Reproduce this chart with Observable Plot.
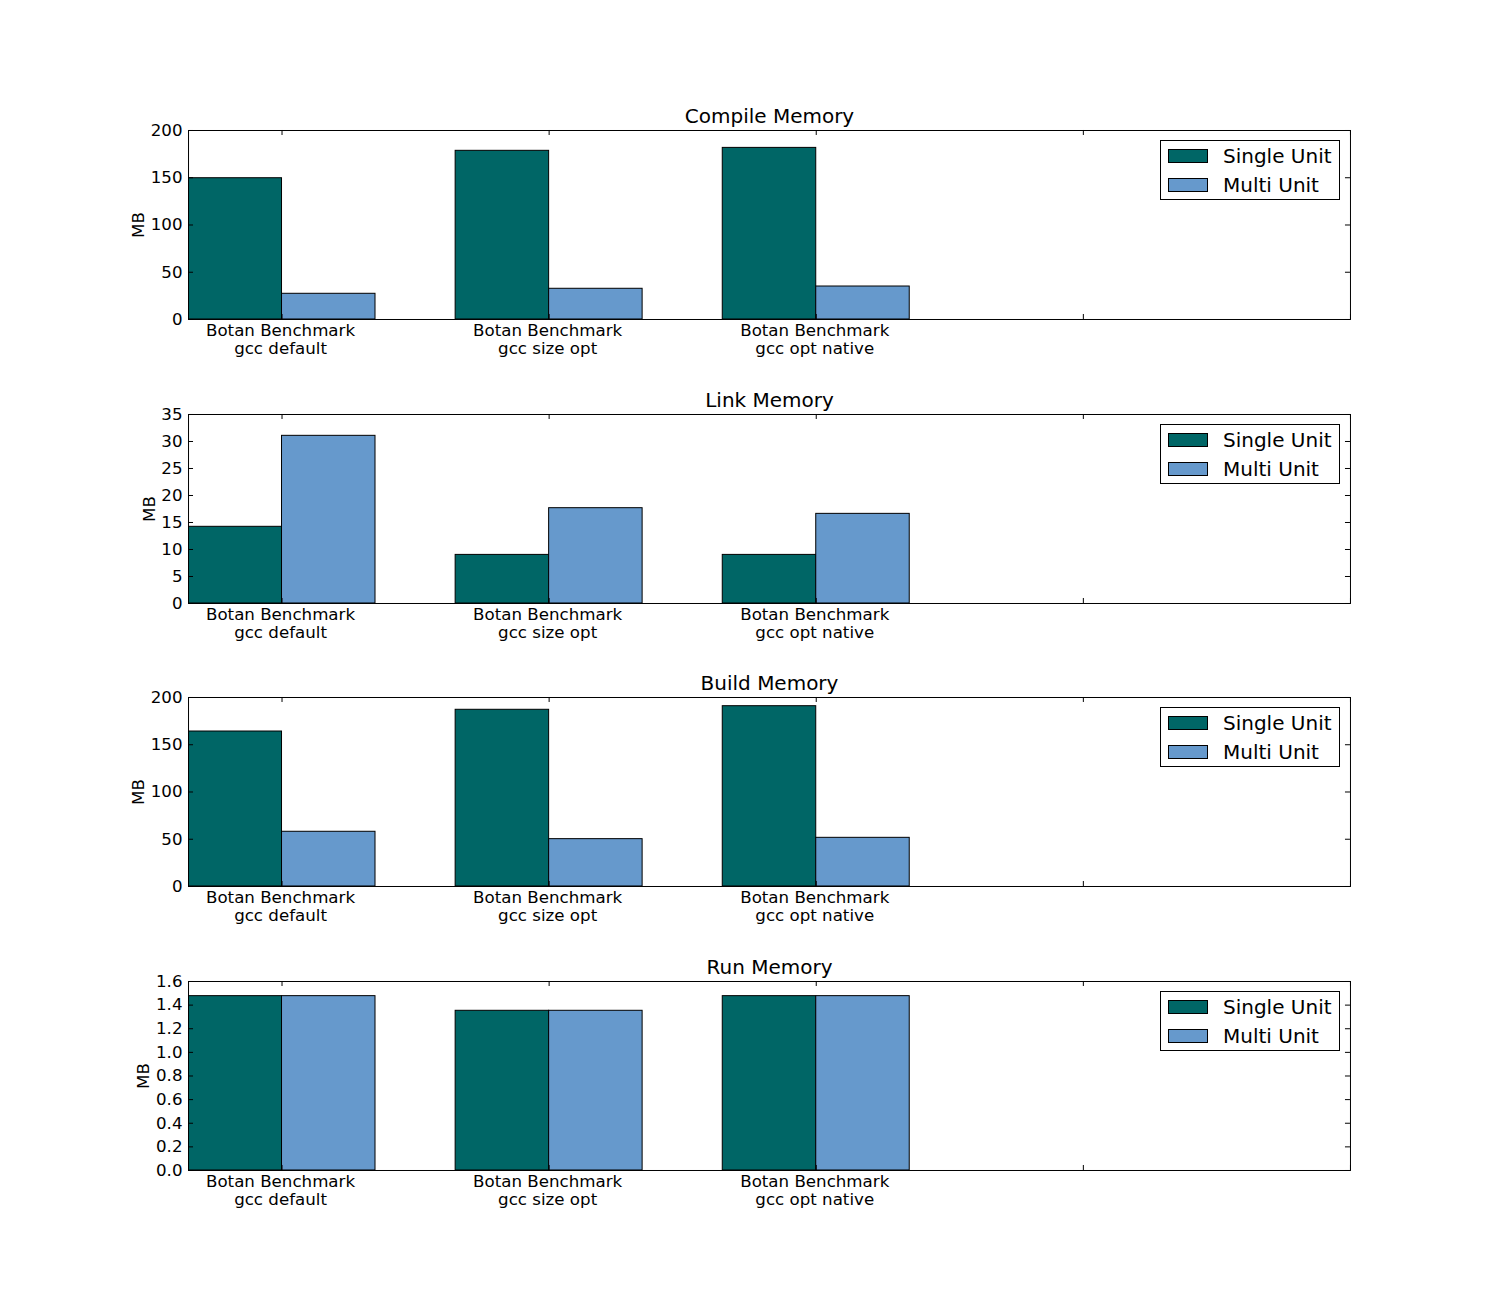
<!DOCTYPE html>
<html>
<head>
<meta charset="utf-8">
<script src="https://cdn.jsdelivr.net/npm/d3@7"></script>
<script src="https://cdn.jsdelivr.net/npm/@observablehq/plot@0.6"></script>
<style>
  body { margin: 0; background: #fff; font-family: "DejaVu Sans", sans-serif; }
  #fig { position: relative; width: 1500px; height: 1300px; padding-top: 82px; box-sizing: border-box; }
  .panel { position: relative; width: 1500px; height: 283.67px; }
  .panel svg { display: block; overflow: visible; }
  .legend { position: absolute; top: 58px; right: 160px; width: 180px; height: 60px; box-sizing: border-box;
            border: 1px solid #000; background: #fff; font-family: "DejaVu Sans", sans-serif; font-size: 20px; }
  .legend .sw { position: absolute; left: 7px; width: 40px; height: 14px; box-sizing: border-box; border: 1px solid #000; }
  .legend .lb { position: absolute; left: 62px; height: 24px; line-height: 24px; color: #000; white-space: nowrap; }
</style>
</head>
<body>
<div id="fig"></div>
<script>
// ---- data ----
const categories = ["Botan Benchmark\ngcc default", "Botan Benchmark\ngcc size opt", "Botan Benchmark\ngcc opt native", "", ""];
const seriesNames = ["Single Unit", "Multi Unit"];
const seriesColors = ["#006666", "#6699cc"];
const titles = ["Compile Memory", "Link Memory", "Build Memory", "Run Memory"];
const yLabel = "MB";

const compileSingle = [149.5, 178.5, 181.6, 0, 0];
const compileMulti  = [27.2, 32.5, 34.9, 0, 0];
const linkSingle    = [14.2, 9.0, 9.0, 0, 0];
const linkMulti     = [31.05, 17.65, 16.6, 0, 0];
const buildSingle   = [164, 187, 190.8, 0, 0];
const buildMulti    = [57.9, 50.1, 51.5, 0, 0];
const runSingle     = [1.476, 1.352, 1.476, 0, 0];
const runMulti      = [1.476, 1.352, 1.476, 0, 0];

const compileTicks = [0, 50, 100, 150, 200];
const linkTicks    = [0, 5, 10, 15, 20, 25, 30, 35];
const buildTicks   = [0, 50, 100, 150, 200];
const runTicks     = [0.0, 0.2, 0.4, 0.6, 0.8, 1.0, 1.2, 1.4, 1.6];
const runTickFormat = ".1f";

// ---- build panels ----
const barWidth = 0.35;
const panels = [
  {title: titles[0], single: compileSingle, multi: compileMulti, ticks: compileTicks, fmt: "d"},
  {title: titles[1], single: linkSingle,    multi: linkMulti,    ticks: linkTicks,    fmt: "d"},
  {title: titles[2], single: buildSingle,   multi: buildMulti,   ticks: buildTicks,   fmt: "d"},
  {title: titles[3], single: runSingle,     multi: runMulti,     ticks: runTicks,     fmt: runTickFormat}
];

const fig = document.getElementById("fig");
const canvas = document.createElement("canvas");
const ctx = canvas.getContext("2d");
ctx.font = "16.67px 'DejaVu Sans'";

const xTicks = categories.map((c, i) => i + barWidth);
const xMax = categories.length - 1 + barWidth;

for (const p of panels) {
  const rows = [];
  categories.forEach((c, i) => {
    rows.push({i, s: 0, v: p.single[i]});
    rows.push({i, s: 1, v: p.multi[i]});
  });
  const yMax = p.ticks[p.ticks.length - 1];
  const fmt = d3.format(p.fmt);
  const maxW = d3.max(p.ticks, t => ctx.measureText(fmt(t)).width);
  const labelDx = -(6 + maxW + 12);

  const chart = Plot.plot({
    width: 1500,
    height: 283.67,
    marginTop: 48,
    marginBottom: 46.67,
    marginLeft: 188,
    marginRight: 150,
    style: {fontFamily: "DejaVu Sans, sans-serif", fontSize: "16.67px", color: "#000", background: "#fff"},
    x: {domain: [0, xMax], axis: null},
    y: {domain: [0, yMax], axis: null},
    color: {domain: [0, 1], range: seriesColors},
    marks: [
      Plot.rect(rows, {
        x1: d => d.i + d.s * barWidth,
        x2: d => d.i + (d.s + 1) * barWidth,
        y1: d => 0,
        y2: d => d.v,
        fill: d => d.s,
        stroke: "#000",
        strokeWidth: 1,
        clip: true
      }),
      Plot.frame({stroke: "#000", strokeWidth: 1}),
      // inward ticks (x: bottom and top)
      Plot.ruleX(xTicks, {x: d => d, y1: d => 0, y2: d => 0, insetTop: -5, stroke: "#000"}),
      Plot.ruleX(xTicks, {x: d => d, y1: d => yMax, y2: d => yMax, insetBottom: -5, stroke: "#000"}),
      // inward ticks (y: left and right)
      Plot.ruleY(p.ticks, {y: d => d, x1: d => 0, x2: d => 0, insetRight: -5, stroke: "#000"}),
      Plot.ruleY(p.ticks, {y: d => d, x1: d => xMax, x2: d => xMax, insetLeft: -5, stroke: "#000"}),
      Plot.axisX(xTicks, {
        anchor: "bottom", tickSize: 0, tickPadding: 4, lineHeight: 1.08, dx: -1.5,
        tickFormat: (d, k) => categories[k] || "", label: null, fontSize: 16.67
      }),
      Plot.axisY(p.ticks, {
        anchor: "left", tickSize: 0, tickPadding: 6, tickFormat: fmt, label: null, fontSize: 16.67
      }),
      Plot.text([p.title], {frameAnchor: "top", dy: -14, text: d => d, fontSize: 20, fill: "#000", lineAnchor: "middle"}),
      Plot.text([yLabel], {frameAnchor: "left", dx: labelDx, rotate: -90, textAnchor: "middle", lineAnchor: "middle",
                           text: d => d, fontSize: 16.67, fill: "#000"})
    ]
  });

  const panel = document.createElement("div");
  panel.className = "panel";
  panel.appendChild(chart);

  const legend = document.createElement("div");
  legend.className = "legend";
  seriesNames.forEach((name, k) => {
    const sw = document.createElement("div");
    sw.className = "sw";
    sw.style.top = (8 + k * 29) + "px";
    sw.style.background = seriesColors[k];
    const lb = document.createElement("div");
    lb.className = "lb";
    lb.style.top = (3 + k * 29) + "px";
    lb.textContent = name;
    legend.appendChild(sw);
    legend.appendChild(lb);
  });
  panel.appendChild(legend);
  fig.appendChild(panel);
}
</script>
</body>
</html>
